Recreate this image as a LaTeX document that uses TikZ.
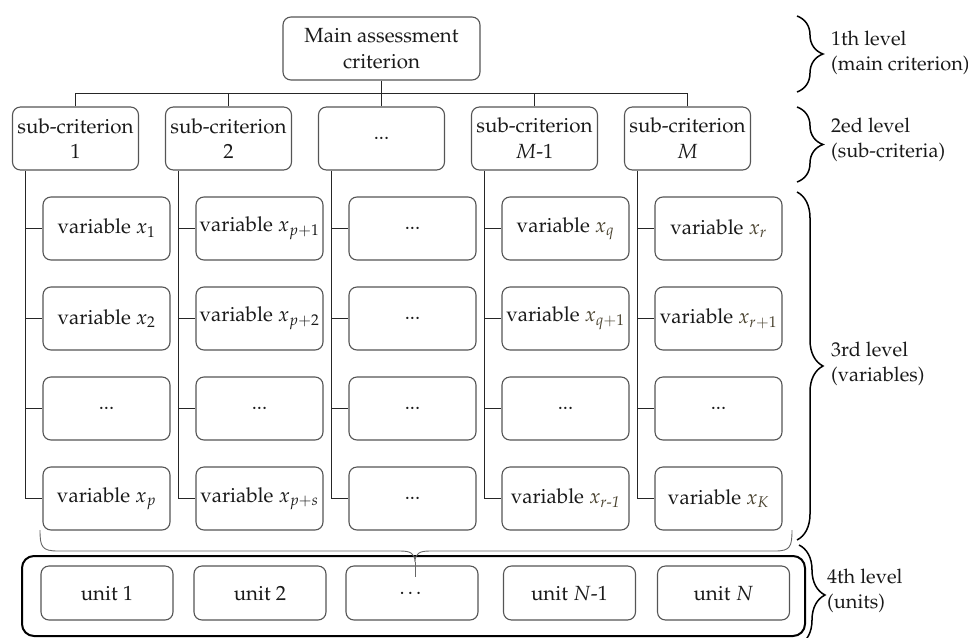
\documentclass[tikz,border=0pt]{standalone}
\usepackage[T1]{fontenc}
\usepackage{mathpazo}
\usepackage{amsmath}
\usetikzlibrary{decorations.pathreplacing}
\definecolor{boxline}{HTML}{555555}
\definecolor{txt}{HTML}{1A1A1A}
\definecolor{olivetxt}{HTML}{4A4330}
\newcommand{\ox}[1]{\textcolor{olivetxt}{$x_{#1}$}}
\begin{document}
\begin{tikzpicture}[x=1pt,y=-1pt,
  box/.style={draw=boxline, line width=1.1pt, rounded corners=8pt, align=center, text=txt, inner sep=0pt, font=\fontsize{20.5}{25.5}\selectfont},
  mainbox/.style={box, minimum width=197pt, minimum height=63pt},
  subbox/.style={box, minimum width=126pt, minimum height=63pt},
  varbox/.style={box, minimum width=127pt, minimum height=63pt},
  unitbox/.style={box, minimum width=132pt, minimum height=54pt},
  conn/.style={draw=black!85, line width=1pt},
  lvl/.style={anchor=west, align=left, text=txt, inner sep=0pt, font=\fontsize{20}{25}\selectfont},
  rbrace/.style={decorate, decoration={brace, amplitude=26pt}, line width=1.5pt},
  unitframe/.style={line width=2pt, rounded corners=12pt}
]
\useasboundingbox (0,0) rectangle (968,637);

% level 1
\node[mainbox] (main) at (381.5,48.5) {Main assessment\\criterion};

% level 2
\node[subbox] (s1) at (75.5,138.5) {sub-criterion\\1};
\node[subbox] (s2) at (228.5,138.5) {sub-criterion\\2};
\node[subbox] (s3) at (381.5,138.5) {...};
\node[subbox] (s4) at (534.5,138.5) {sub-criterion\\$M$-1};
\node[subbox] (s5) at (687.5,138.5) {sub-criterion\\$M$};

% level 3
\node[varbox] (v1-1) at (106.5,228.5) {variable $x_1$};
\node[varbox] (v1-2) at (106.5,318.5) {variable $x_2$};
\node[varbox] (v1-3) at (106.5,408.5) {...};
\node[varbox] (v1-4) at (106.5,498.5) {variable $x_p$};

\node[varbox] (v2-1) at (259.5,228.5) {variable $x_{p+1}$};
\node[varbox] (v2-2) at (259.5,318.5) {variable $x_{p+2}$};
\node[varbox] (v2-3) at (259.5,408.5) {...};
\node[varbox] (v2-4) at (259.5,498.5) {variable $x_{p+s}$};

\node[varbox] (v3-1) at (412.5,228.5) {...};
\node[varbox] (v3-2) at (412.5,318.5) {...};
\node[varbox] (v3-3) at (412.5,408.5) {...};
\node[varbox] (v3-4) at (412.5,498.5) {...};

\node[varbox] (v4-1) at (565.5,228.5) {variable \ox{q}};
\node[varbox] (v4-2) at (565.5,318.5) {variable \ox{q+1}};
\node[varbox] (v4-3) at (565.5,408.5) {...};
\node[varbox] (v4-4) at (565.5,498.5) {variable \ox{r\text{-}\mathit{1}}};

\node[varbox] (v5-1) at (718.5,228.5) {variable \ox{r}};
\node[varbox] (v5-2) at (718.5,318.5) {variable \ox{r+1}};
\node[varbox] (v5-3) at (718.5,408.5) {...};
\node[varbox] (v5-4) at (718.5,498.5) {variable \ox{K}};

% level 4
\draw[unitframe] (22,556) rectangle (805,636);
\node[unitbox] (u1) at (107,593) {unit 1};
\node[unitbox] (u2) at (260,593) {unit 2};
\node[unitbox] (u3) at (412,593) {\dots};
\node[unitbox] (u4) at (569.5,593) {unit $N$-1};
\node[unitbox] (u5) at (723.5,593) {unit $N$};

% connectors
\coordinate (bus) at (0,93);
\draw[conn] (main.south) -- (main.south |- bus);
\draw[conn] (s1.north |- bus) -- (s5.north |- bus);
\foreach \i in {1,...,5}{
  \draw[conn] (s\i.north) -- (s\i.north |- bus);
  \path ([xshift=-50.5pt]s\i.south) coordinate (t\i);
  \draw[conn] (t\i) |- (v\i-4.west);
  \foreach \j in {1,2,3}{
    \draw[conn] (t\i |- v\i-\j.west) -- (v\i-\j.west);
  }
}

% brace under variables
\draw[draw=black!60, line width=0.9pt]
  (40,530) .. controls (40,547) and (42,551) .. (58,551) -- (400,551)
  .. controls (410,551) and (415,553) .. (415,562)
  .. controls (415,553) and (420,551) .. (430,551) -- (775,551)
  .. controls (790,551) and (792,547) .. (792,530);
\draw[draw=black!60, line width=0.9pt] (415,562) -- (415,577);

% level braces
\draw[rbrace] (797,16) -- (797,92);
\draw[rbrace] (797,107) -- (797,182);
\draw[rbrace] (797,192) -- (797,540);
\draw[rbrace] (799,545) -- (799,645);

\node[lvl] (l1) at (831,53) {1th level\\(main criterion)};
\node[lvl] (l2) at (831,140) {2ed level\\(sub-criteria)};
\node[lvl] (l3) at (831,364) {3rd level\\(variables)};
\node[lvl] (l4) at (827,591) {4th level\\(units)};
\end{tikzpicture}
\end{document}
